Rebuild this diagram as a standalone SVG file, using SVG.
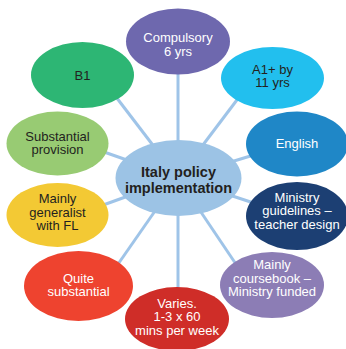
<svg xmlns="http://www.w3.org/2000/svg" width="346" height="349" viewBox="0 0 346 349">
<style>
.lk{stroke:#9fc4e8;stroke-width:3;fill:none}
text{font-family:"Liberation Sans",Arial,sans-serif;font-size:13px;text-anchor:middle}
.w{fill:#ffffff}
.d{fill:#231f20}
.c{font-size:14.5px;font-weight:bold}
</style>
<rect width="346" height="349" fill="#ffffff"/>
<g id="connectors">
<line class="lk" x1="178" y1="178" x2="178" y2="60"/>
<line class="lk" x1="178" y1="178" x2="100" y2="76"/>
<line class="lk" x1="178" y1="178" x2="252" y2="80"/>
<line class="lk" x1="178" y1="178" x2="290" y2="144"/>
<line class="lk" x1="178" y1="178" x2="70" y2="140"/>
<line class="lk" x1="178" y1="178" x2="70" y2="217"/>
<line class="lk" x1="178" y1="178" x2="290" y2="215"/>
<line class="lk" x1="178" y1="178" x2="100" y2="290"/>
<line class="lk" x1="178" y1="178" x2="178" y2="310"/>
<line class="lk" x1="178" y1="178" x2="250" y2="285"/>
</g>
<g id="center">
<ellipse cx="178.5" cy="178" rx="63" ry="38" fill="#9cc3e5"/>
<text class="d c" x="178.5" y="177">Italy policy</text>
<text class="d c" x="178.5" y="193">implementation</text>
</g>
<g id="compulsory">
<ellipse cx="178" cy="41.5" rx="52" ry="33" fill="#6e68ae"/>
<text class="w" x="178" y="42">Compulsory</text>
<text class="w" x="178" y="56">6 yrs</text>
</g>
<g id="b1">
<ellipse cx="82.5" cy="75" rx="51.5" ry="33" fill="#2db674"/>
<text class="d" x="82.5" y="80">B1</text>
</g>
<g id="a1">
<ellipse cx="272.5" cy="78" rx="51.5" ry="31" fill="#22bfee"/>
<text class="d" x="272.5" y="73.5">A1+ by</text>
<text class="d" x="272.5" y="87">11 yrs</text>
</g>
<g id="english">
<ellipse cx="297" cy="144" rx="51" ry="32.5" fill="#1f87c7"/>
<text class="w" x="297" y="148">English</text>
</g>
<g id="substantial">
<ellipse cx="57.5" cy="143.5" rx="51" ry="32" fill="#98cb73"/>
<text class="d" x="57.5" y="140.5">Substantial</text>
<text class="d" x="57.5" y="154">provision</text>
</g>
<g id="generalist">
<ellipse cx="57.5" cy="215" rx="51" ry="32" fill="#f3c934"/>
<text class="d" x="57.5" y="203">Mainly</text>
<text class="d" x="57.5" y="216.5">generalist</text>
<text class="d" x="57.5" y="230">with FL</text>
</g>
<g id="ministry">
<ellipse cx="297" cy="216" rx="51" ry="34" fill="#1c3f73"/>
<text class="w" x="297" y="201.5">Ministry</text>
<text class="w" x="297" y="215">guidelines –</text>
<text class="w" x="297" y="228.5">teacher design</text>
</g>
<g id="quite">
<ellipse cx="78.5" cy="286" rx="54.5" ry="35" fill="#ee432f"/>
<text class="w" x="78.5" y="282.5">Quite</text>
<text class="w" x="78.5" y="296">substantial</text>
</g>
<g id="varies">
<ellipse cx="177" cy="319" rx="52" ry="32" fill="#cf2d28"/>
<text class="w" x="177" y="307.5">Varies.</text>
<text class="w" x="177" y="321">1-3 x 60</text>
<text class="w" x="177" y="334.5">mins per week</text>
</g>
<g id="coursebook">
<ellipse cx="272" cy="285" rx="52" ry="33" fill="#8c7db5"/>
<text class="w" x="272" y="269">Mainly</text>
<text class="w" x="272" y="282.5">coursebook –</text>
<text class="w" x="272" y="296">Ministry funded</text>
</g>
</svg>
